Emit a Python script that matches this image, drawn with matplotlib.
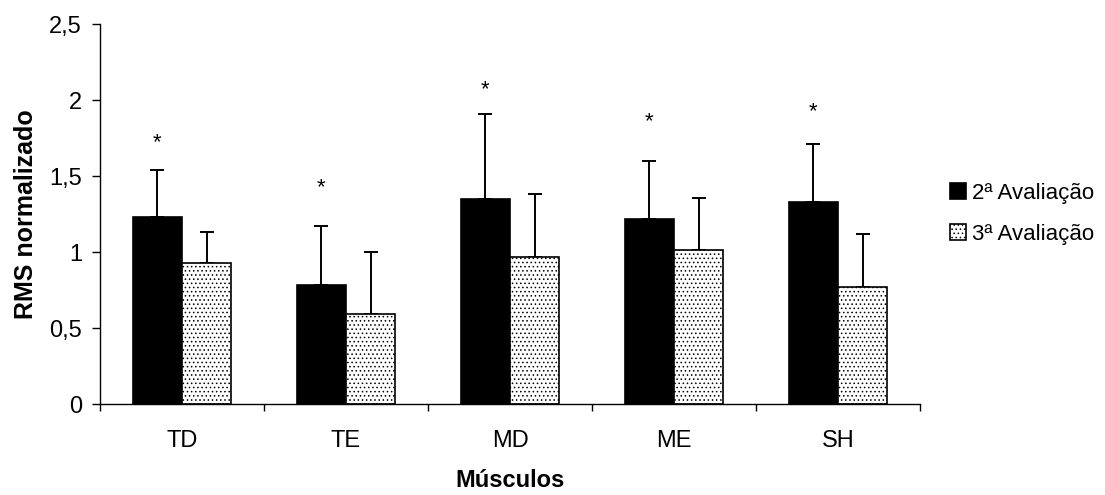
import matplotlib
matplotlib.use("Agg")
import matplotlib.pyplot as plt
import numpy as np

plt.rcParams['font.family'] = ['Liberation Sans', 'DejaVu Sans']
plt.rcParams['hatch.linewidth'] = 0.6

# data
musculos = ['TD', 'TE', 'MD', 'ME', 'SH']
aval2 = [1.23, 0.78, 1.35, 1.22, 1.33]
aval2_top = [1.54, 1.17, 1.91, 1.60, 1.71]
aval3 = [0.93, 0.59, 0.97, 1.01, 0.77]
aval3_top = [1.13, 1.00, 1.38, 1.355, 1.12]
star_y = [1.72, 1.42, 2.07, 1.86, 1.92]

x = np.arange(len(musculos))
w = 0.3

fig = plt.figure(figsize=(11.05, 4.95), dpi=100)
ax = fig.add_axes([0.0905, 0.1838, 0.7421, 0.7677])

err2 = [np.zeros(len(x)), np.array(aval2_top) - np.array(aval2)]
err3 = [np.zeros(len(x)), np.array(aval3_top) - np.array(aval3)]

ax.bar(x - w / 2, aval2, w, color='black', edgecolor='black', linewidth=1.2,
       label='2ª Avaliação', zorder=2)
ax.bar(x + w / 2, aval3, w, color='white', edgecolor='black', linewidth=1.2,
       hatch='....', label='3ª Avaliação', zorder=2)
ax.errorbar(x - w / 2, aval2, yerr=err2, fmt='none', ecolor='black',
            elinewidth=1.4, capsize=5, capthick=1.4, zorder=1)
ax.errorbar(x + w / 2, aval3, yerr=err3, fmt='none', ecolor='black',
            elinewidth=1.4, capsize=5, capthick=1.4, zorder=1)

for xi, yi in zip(x, star_y):
    ax.text(xi - w / 2, yi, '*', ha='center', va='center', fontsize=16)

ax.set_xlim(-0.5, len(musculos) - 0.5)
ax.set_ylim(0, 2.5)
ax.set_yticks([0, 0.5, 1, 1.5, 2, 2.5])
ax.set_yticklabels(['0', '0,5', '1', '1,5', '2', '2,5'], fontsize=17)

ax.set_xticks(np.arange(len(musculos) + 1) - 0.5)
ax.set_xticklabels([])
ax.set_xticks(x, minor=True)
ax.set_xticklabels(musculos, minor=True, fontsize=17)
ax.tick_params(axis='x', which='major', direction='out', length=5, width=1)
ax.tick_params(axis='x', which='minor', length=0, pad=19)
ax.tick_params(axis='y', direction='out', length=6, width=1, pad=7)

for s in ['top', 'right']:
    ax.spines[s].set_visible(False)
ax.spines['left'].set_linewidth(1)
ax.spines['bottom'].set_linewidth(1)

ax.set_xlabel('Músculos', fontsize=17, fontweight='bold', labelpad=12)
ax.set_ylabel('RMS normalizado', fontsize=18, fontweight='bold', labelpad=8)

ax.legend(loc='center left', bbox_to_anchor=(1.026, 0.5), frameon=False,
          fontsize=16, handlelength=0.7, handleheight=0.7, handletextpad=0.3,
          labelspacing=0.9, borderaxespad=0)

fig.savefig('out.png', dpi=100)
